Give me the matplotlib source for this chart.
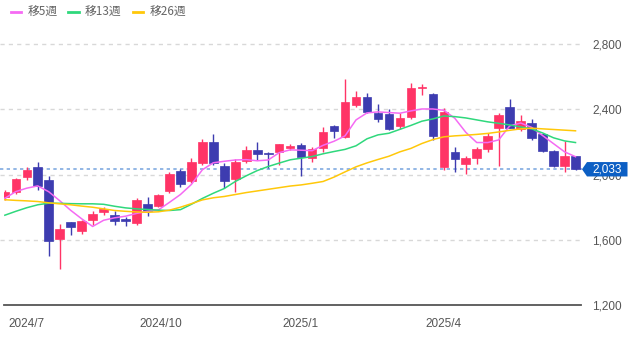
import matplotlib
matplotlib.use("Agg")
import numpy as np
import matplotlib.pyplot as plt
import matplotlib.transforms as mtransforms
from matplotlib.patches import Polygon

plt.rcParams['font.family'] = ['Liberation Sans', 'Noto Sans CJK JP']

# weekly candles (oldest first)
opens = [1865, 1891, 1985, 2044, 1968, 1606, 1708, 1657, 1724, 1769,
	1754, 1727, 1706, 1819, 1809, 1901, 2023, 1962, 2074, 2203,
	2056, 1972, 2085, 2152, 2135, 2142, 2163, 2183, 2101, 2166,
	2300, 2234, 2428, 2475, 2377, 2373, 2299, 2352, 2532, 2493,
	2049, 2142, 2066, 2101, 2158, 2289, 2414, 2279, 2316, 2248,
	2146, 2050, 2112]
highs = [1905, 1980, 2047, 2077, 1994, 1695, 1712, 1720, 1779, 1804,
	1778, 1743, 1856, 1862, 1882, 2019, 2034, 2105, 2218, 2248,
	2071, 2095, 2177, 2199, 2140, 2190, 2187, 2193, 2172, 2291,
	2305, 2585, 2516, 2503, 2432, 2402, 2381, 2561, 2557, 2500,
	2410, 2172, 2115, 2169, 2258, 2377, 2463, 2367, 2340, 2254,
	2150, 2205, 2115]
lows = [1845, 1880, 1969, 1903, 1498, 1422, 1632, 1636, 1694, 1754,
	1692, 1682, 1692, 1749, 1801, 1887, 1927, 1948, 2060, 2060,
	1917, 1896, 2071, 2091, 2040, 2060, 2152, 1993, 2080, 2142,
	2224, 2224, 2414, 2377, 2326, 2275, 2279, 2340, 2489, 2213,
	2029, 2015, 2005, 2066, 2142, 2050, 2285, 2270, 2213, 2138,
	2044, 2019, 2028]
closes = [1895, 1972, 2029, 1933, 1590, 1668, 1677, 1714, 1759, 1792,
	1717, 1717, 1846, 1774, 1876, 2005, 1944, 2077, 2203, 2074,
	1958, 2080, 2152, 2126, 2126, 2187, 2177, 2111, 2156, 2264,
	2269, 2448, 2475, 2387, 2340, 2281, 2346, 2530, 2540, 2240,
	2387, 2097, 2105, 2156, 2240, 2367, 2289, 2330, 2224, 2146,
	2056, 2112, 2033]

# moving averages
ma5 = [1855, 1896, 1917, 1931, 1895, 1840, 1781, 1729, 1682, 1720,
	1735, 1745, 1762, 1775, 1784, 1830, 1878, 1940, 2030, 2073,
	2082, 2090, 2092, 2085, 2090, 2135, 2152, 2150, 2147, 2180,
	2205, 2238, 2336, 2379, 2385, 2381, 2377, 2391, 2403, 2403,
	2395, 2346, 2260, 2197, 2197, 2213, 2299, 2317, 2290, 2240,
	2190, 2140, 2110]
ma13 = [1751, 1775, 1797, 1815, 1825, 1824, 1822, 1821, 1821, 1818,
	1806, 1796, 1790, 1786, 1782, 1780, 1785, 1818, 1854, 1886,
	1915, 1958, 1993, 2025, 2050, 2071, 2091, 2101, 2111, 2128,
	2142, 2155, 2177, 2220, 2244, 2254, 2278, 2302, 2328, 2342,
	2360, 2356, 2348, 2336, 2324, 2315, 2305, 2293, 2281, 2256,
	2226, 2207, 2197]
ma26 = [1846, 1842, 1839, 1835, 1827, 1821, 1815, 1807, 1800, 1790,
	1780, 1775, 1771, 1769, 1772, 1782, 1800, 1822, 1845, 1858,
	1866, 1878, 1890, 1900, 1910, 1920, 1930, 1937, 1947, 1958,
	1985, 2017, 2048, 2072, 2093, 2113, 2140, 2161, 2191, 2215,
	2232, 2238, 2242, 2247, 2253, 2262, 2272, 2281, 2285, 2281,
	2277, 2273, 2269]

tick_pos = [0, 12, 25, 38]
tick_labels = ["2024/7", "2024/10", "2025/1", "2025/4"]
y_ticks = [1200, 1600, 2000, 2400, 2800]

UP = "#ff3466"
DOWN = "#3d3cb0"
TEXT = "#555555"


def main():
	fig = plt.figure(figsize=(6.38, 3.37), dpi=100)
	ax = fig.add_axes([4.3 / 638, 32 / 337, 576.7 / 638, 285 / 337])

	x = np.arange(len(closes))
	o = np.array(opens)
	c = np.array(closes)
	colors = np.where(c >= o, UP, DOWN)

	ax.set_xlim(-0.05, 52.5)
	ax.set_ylim(1200, 2949)

	# dashed grid, starting a bit left of the plot
	for v in y_ticks[1:]:
		ax.axhline(v, xmin=-0.0075, xmax=1, color="#d8d8d8", lw=1.0,
			dashes=(3, 3), clip_on=False, zorder=0)

	# last price line
	ax.axhline(closes[-1], xmin=-0.0075, xmax=1.002, color="#80aae0", lw=1.2,
		dashes=(2, 2), clip_on=False, zorder=1)

	ax.vlines(x, lows, highs, colors=colors, lw=1.0, zorder=2)
	ax.bar(x, c - o, bottom=o, width=0.78, color=colors, edgecolor=colors,
		linewidth=0.5, zorder=3)

	l5, = ax.plot(x, ma5, color="#f56af3", lw=1.1, zorder=4, label="移5週")
	l13, = ax.plot(x, ma13, color="#2fd87c", lw=1.1, zorder=4, label="移13週")
	l26, = ax.plot(x, ma26, color="#ffc80a", lw=1.1, zorder=4, label="移26週")

	for side in ["top", "left", "right"]:
		ax.spines[side].set_visible(False)
	ax.spines["bottom"].set_color("#555555")
	ax.spines["bottom"].set_linewidth(1.3)
	ax.patch.set_alpha(0)

	ax.yaxis.tick_right()
	ax.set_yticks(y_ticks)
	ax.set_yticklabels([f"{v:,}" for v in y_ticks])
	ax.tick_params(axis="y", length=0, pad=8, labelsize=8.5, labelcolor=TEXT)

	ax.set_xticks(tick_pos)
	ax.set_xticklabels(tick_labels)
	ax.tick_params(axis="x", length=0, pad=9.5, labelsize=8.5, labelcolor=TEXT)
	shift = mtransforms.ScaledTranslation(3.3 / 100, 0, fig.dpi_scale_trans)
	for lab in ax.get_xticklabels():
		lab.set_horizontalalignment("left")
		lab.set_transform(lab.get_transform() + shift)

	# price tag on the right axis
	tag_trans = fig.dpi_scale_trans + mtransforms.ScaledTranslation(
		ax.get_xlim()[1], closes[-1], ax.transData)
	tag = Polygon([(0.01, 0), (0.06, 0.072), (0.465, 0.072), (0.465, -0.072),
		(0.06, -0.072)], closed=True, transform=tag_trans, facecolor="#0c5fc4",
		edgecolor="none", clip_on=False, zorder=10)
	ax.add_patch(tag)
	ax.text(0.26, -0.003, f"{closes[-1]:,}", transform=tag_trans, ha="center",
		va="center", color="white", fontsize=8.5, zorder=11, clip_on=False)

	leg = fig.legend(handles=[l5, l13, l26], loc="center left",
		bbox_to_anchor=(0.0, 0.962), ncol=3, frameon=False,
		handlelength=0.85, handletextpad=0.55, columnspacing=0.95,
		prop={"family": ["Noto Sans CJK JP"], "size": 8.5})
	for t in leg.get_texts():
		t.set_color("#666666")
	for h in leg.get_lines():
		h.set_linewidth(2.0)

	plt.savefig("out.png", dpi=100)


if __name__ == '__main__':
	main()
